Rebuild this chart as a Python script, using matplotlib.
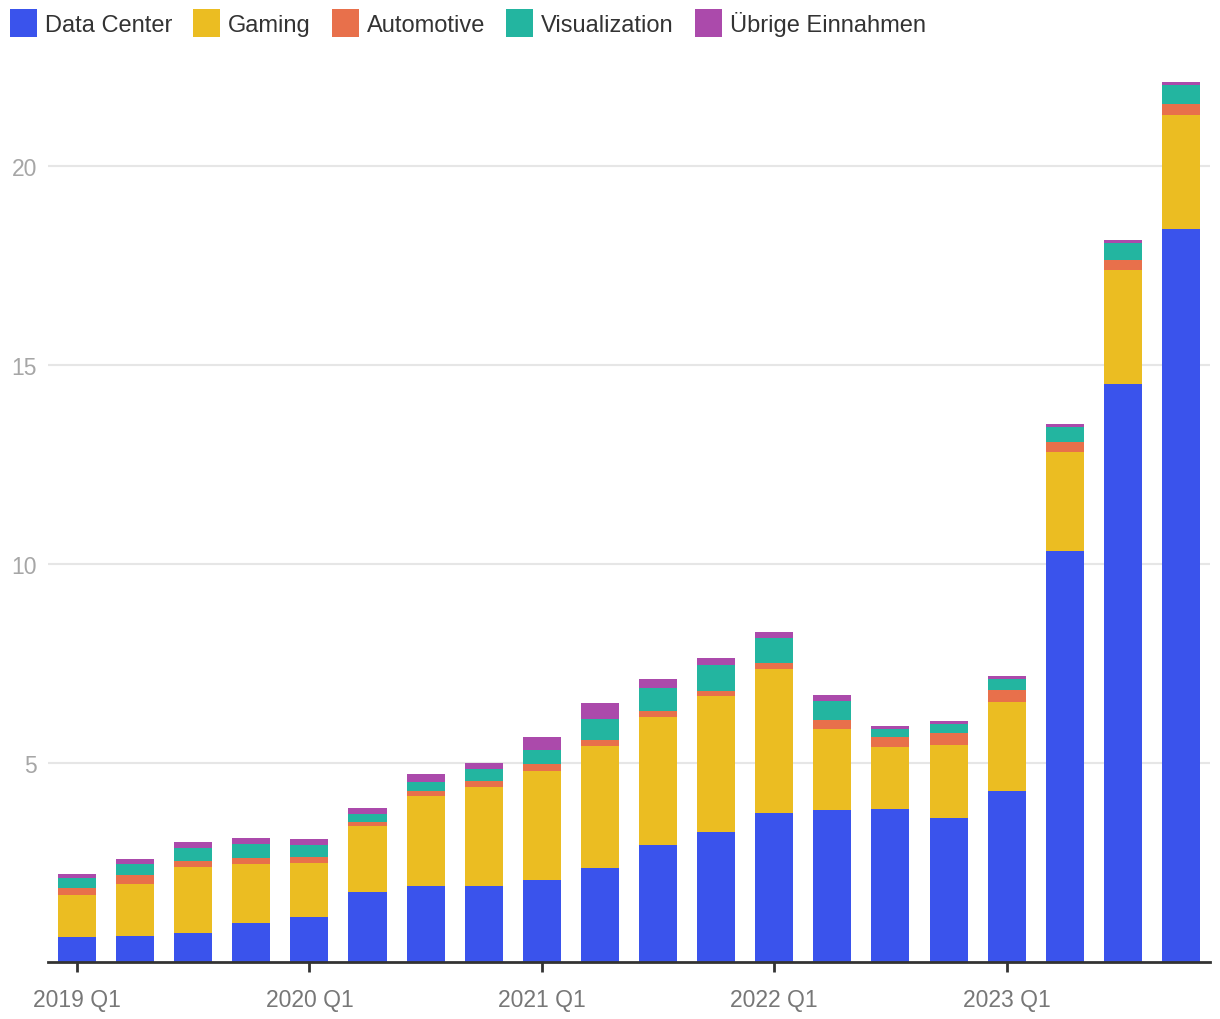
import numpy as np
import matplotlib
matplotlib.use("Agg")
import matplotlib.pyplot as plt
from matplotlib.patches import Patch

plt.rcParams['font.family'] = ['Liberation Sans', 'DejaVu Sans']

# quarterly revenue, billions
quarters = [f"{y} Q{q}" for y in range(2019, 2024) for q in range(1, 5)]
data_center = [0.634, 0.655, 0.726, 0.968, 1.141, 1.752, 1.900, 1.903, 2.048, 2.366,
               2.936, 3.263, 3.750, 3.806, 3.833, 3.616, 4.284, 10.323, 14.514, 18.404]
gaming = [1.055, 1.313, 1.659, 1.491, 1.339, 1.654, 2.271, 2.495, 2.760, 3.061,
          3.221, 3.420, 3.620, 2.042, 1.574, 1.831, 2.240, 2.486, 2.856, 2.865]
automotive = [0.166, 0.209, 0.162, 0.163, 0.155, 0.111, 0.125, 0.145, 0.154, 0.152,
              0.135, 0.125, 0.138, 0.220, 0.251, 0.294, 0.296, 0.253, 0.261, 0.281]
visualization = [0.266, 0.291, 0.324, 0.331, 0.307, 0.203, 0.236, 0.307, 0.372, 0.519,
                 0.577, 0.643, 0.622, 0.496, 0.200, 0.226, 0.295, 0.379, 0.416, 0.463]
other = [0.099, 0.111, 0.143, 0.152, 0.138, 0.146, 0.194, 0.153, 0.327, 0.409,
         0.234, 0.192, 0.158, 0.140, 0.073, 0.084, 0.077, 0.066, 0.073, 0.090]

series = [("Data Center", data_center, "#3a53ec"),
          ("Gaming", gaming, "#ebbd22"),
          ("Automotive", automotive, "#e8704b"),
          ("Visualization", visualization, "#23b5a0"),
          ("Übrige Einnahmen", other, "#ab4aab")]

fig = plt.figure(figsize=(12.2, 10.2), dpi=100)
ax = fig.add_axes([0.0393, 0.0559, 0.9525, 0.8706])

x = np.arange(len(quarters))
bottom = np.zeros(len(quarters))
for name, vals, col in series:
    ax.bar(x, vals, width=0.655, bottom=bottom, color=col, label=name, zorder=3)
    bottom += np.array(vals)

ax.set_xlim(-0.5, len(quarters) - 0.5)
ax.set_ylim(0, 22.3)
ax.set_yticks([5, 10, 15, 20])
ax.grid(axis='y', color='#e6e6e6', linewidth=1.5, zorder=0)
ax.tick_params(axis='y', length=0, pad=8, labelsize=16.5, labelcolor='#a6a6a6')

tick_idx = [i for i, q in enumerate(quarters) if q.endswith("Q1")]
ax.set_xticks(tick_idx)
ax.set_xticklabels([quarters[i] for i in tick_idx])
ax.tick_params(axis='x', length=7, width=2, color='#333333', pad=12,
               labelsize=16.5, labelcolor='#777777')

for s in ['top', 'right', 'left']:
    ax.spines[s].set_visible(False)
ax.spines['bottom'].set_color('#333333')
ax.spines['bottom'].set_linewidth(2)
ax.spines['bottom'].set_zorder(4)

handles = [Patch(facecolor=c, label=n) for n, _, c in series]
fig.legend(handles=handles, loc='upper left', bbox_to_anchor=(10 / 1220, 1 - 10 / 1020),
           ncol=5, frameon=False, fontsize=17, borderpad=0, borderaxespad=0,
           handlelength=1.14, handleheight=1.45, handletextpad=0.34,
           columnspacing=0.89, labelcolor='#333333')

fig.savefig("out.png", dpi=100)
